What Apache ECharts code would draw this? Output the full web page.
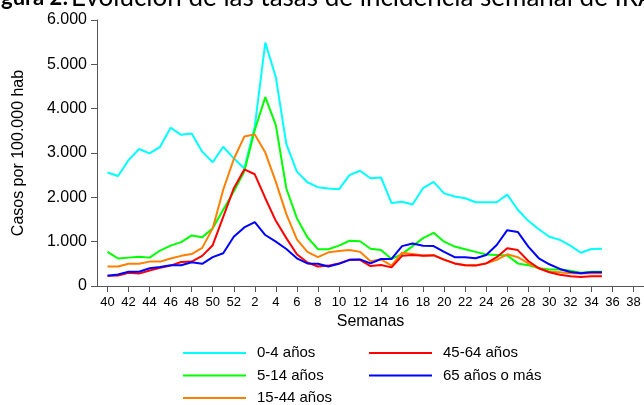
<!DOCTYPE html>
<html>
<head>
<meta charset="utf-8">
<script src="https://cdn.jsdelivr.net/npm/echarts@6/dist/echarts.min.js"></script>
<style>
html,body{margin:0;padding:0;background:#fff;}
#c{width:644px;height:405px;}
</style>
</head>
<body>
<div id="c"></div>
<script>
// Week categories (season week 40 .. week 39), leading blank slot before week 40
var weeks = ['40','41','42','43','44','45','46','47','48','49','50','51','52',
  '1','2','3','4','5','6','7','8','9','10','11','12','13','14','15','16','17','18','19','20',
  '21','22','23','24','25','26','27','28','29','30','31','32','33','34','35','36','37','38','39'];
var seriesNames = ['0-4 años','5-14 años','15-44 años','45-64 años','65 años o más'];
var seriesColors = ['#00FFFF','#00FF00','#FF8000','#FF0000','#0000FF'];

var age0_4 = [2560,2480,2840,3090,2990,3140,3570,3410,3440,3030,2790,3140,2880,2650,3600,5490,4710,3200,2580,2340,2230,2200,2180,2500,2600,2430,2450,1870,1900,1840,2210,2350,2090,2020,1980,1890,1890,1890,2060,1720,1470,1280,1110,1040,910,750,835,840];
var age5_14 = [770,620,640,660,640,800,910,990,1140,1100,1300,1720,2130,2580,3520,4260,3630,2200,1530,1100,830,830,910,1020,1010,840,810,610,720,900,1080,1200,1000,890,830,770,710,700,690,510,470,400,370,370,345,300,320,320];
var age15_44 = [440,440,500,500,550,550,620,680,720,860,1300,2170,2860,3370,3420,3010,2350,1620,1050,770,650,760,790,810,770,560,600,460,750,720,690,700,590,510,470,470,510,590,715,650,510,400,320,310,285,280,285,285];
var age45_64 = [230,235,300,280,350,410,460,540,550,680,920,1560,2200,2630,2520,1980,1470,1080,715,530,440,460,510,590,590,450,475,420,680,700,680,690,595,510,470,460,510,650,850,810,565,400,310,255,220,205,220,220];
var age65 = [230,260,320,320,400,430,470,470,535,500,650,740,1110,1320,1440,1150,1000,835,625,510,500,440,500,590,600,510,610,610,900,960,910,900,770,650,650,625,700,925,1260,1220,890,625,490,385,315,285,310,310];
var allValues = [age0_4, age5_14, age15_44, age45_64, age65];

var cats = [''].concat(weeks);
function oddIdx(i){ return i % 2 === 1; }
function fmt(v){ return String(v).replace(/\B(?=(\d{3})+(?!\d))/g, '.'); }

var series = seriesNames.map(function(n, k){
  return {
    name: n, type: 'line', symbol: 'none', smooth: false,
    data: [null].concat(allValues[k]),
    lineStyle: {width: 2, color: seriesColors[k]},
    itemStyle: {color: seriesColors[k]},
    emphasis: {disabled: true}
  };
});

var legendText = {fontFamily: 'Liberation Sans, Arial, sans-serif', fontSize: 15, color: '#000', lineHeight: 18, padding: [0,0,0,6]};
var chart = echarts.init(document.getElementById('c'), null, {renderer: 'canvas'});
chart.setOption({
  animation: false,
  backgroundColor: '#fff',
  title: {
    text: '{b|Figura 2:}{r|Evolución de las tasas de incidencia semanal de IRA}',
    left: -17, top: -15, padding: 0,
    textStyle: {fontFamily: 'Lato, sans-serif', fontSize: 26, fontWeight: 'normal', color: '#000', lineHeight: 26,
      rich: {
        b: {fontFamily: 'Lato, sans-serif', fontSize: 22, fontWeight: 'bold', color: '#000', lineHeight: 26, padding: [0,3,0,0]},
        r: {fontFamily: 'Lato, sans-serif', fontSize: 26, fontWeight: 'normal', color: '#000', lineHeight: 26}
      }}
  },
  grid: {left: 97, right: -1, top: 20, bottom: 119, containLabel: false},
  legend: [
    {orient: 'vertical', left: 183, top: 344, height: 100, padding: 0, itemWidth: 63, itemHeight: 2, itemGap: 4.5, icon: 'rect',
     data: seriesNames.slice(0,3), textStyle: legendText, selectedMode: false},
    {orient: 'vertical', left: 369, top: 344, height: 100, padding: 0, itemWidth: 63, itemHeight: 2, itemGap: 4.5, icon: 'rect',
     data: seriesNames.slice(3), textStyle: legendText, selectedMode: false}
  ],
  xAxis: {
    type: 'category', data: cats, boundaryGap: false,
    name: 'Semanas', nameLocation: 'middle', nameGap: 24,
    nameTextStyle: {fontFamily: 'Liberation Sans, Arial, sans-serif', fontSize: 16, color: '#000'},
    axisLine: {show: true, lineStyle: {color: '#555', width: 1}},
    axisTick: {show: true, interval: oddIdx, length: 6, lineStyle: {color: '#555'}},
    axisLabel: {interval: oddIdx, margin: 10, fontFamily: 'Liberation Sans, Arial, sans-serif', fontSize: 13, color: '#000'},
    splitLine: {show: false}
  },
  yAxis: {
    type: 'value', min: 0, max: 6000, interval: 1000,
    name: 'Casos por 100.000 hab', nameLocation: 'middle', nameGap: 70, nameRotate: 90,
    nameTextStyle: {fontFamily: 'Liberation Sans, Arial, sans-serif', fontSize: 16, color: '#000'},
    axisLine: {show: true, lineStyle: {color: '#555', width: 1}},
    axisTick: {show: true, length: 6, lineStyle: {color: '#555'}},
    axisLabel: {margin: 10, formatter: fmt, fontFamily: 'Liberation Sans, Arial, sans-serif', fontSize: 16, color: '#000'},
    splitLine: {show: false}
  },
  series: series
});
</script>
</body>
</html>
